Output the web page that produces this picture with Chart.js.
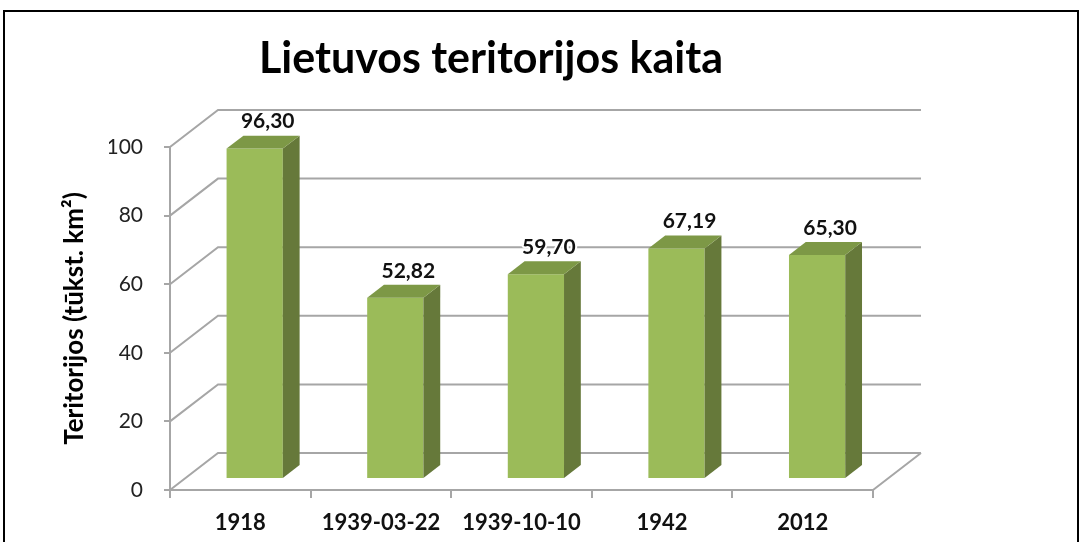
<!DOCTYPE html>
<html><head><meta charset="utf-8">
<script src="https://cdn.jsdelivr.net/npm/chart.js@4"></script>
<style>
html,body{margin:0;padding:0;background:#fff;}
#wrap{position:relative;width:1083px;height:542px;overflow:hidden;}
#frame{position:absolute;left:3px;top:10px;width:1072px;height:600px;border:2px solid #000;pointer-events:none;}
canvas{position:absolute;left:0;top:0;}
</style></head><body>
<div id="wrap"><canvas id="c" width="1083" height="542"></canvas><div id="frame"></div></div>
<script>
const categories = ['1918', '1939-03-22', '1939-10-10', '1942', '2012'];
const areaValues = [96.30, 52.82, 59.70, 67.19, 65.30];
const yTickValues = [0, 20, 40, 60, 80, 100];
const chartTitle = 'Lietuvos teritorijos kaita';
const yTitle = 'Teritorijos (tūkst. km²)';

const GRID = '#a6a6a6';
const FRONT = '#9bbb59';
const SIDE = '#66793a';
const TOP = '#7d9846';
const DX = 48, DY = -37;      // full depth of the 3D box
const FACE = 0.3;             // depth of bar front face
const BDEPTH = 0.35;          // depth of bars

const depth3d = {
  id: 'depth3d',
  beforeDatasetsDraw(chart) {
    const {ctx, chartArea: a, scales: {y}} = chart;
    ctx.save();
    ctx.strokeStyle = GRID; ctx.lineWidth = 2;
    ctx.beginPath();
    y.ticks.forEach(t => {
      const py = y.getPixelForValue(t.value);
      ctx.moveTo(a.left, py); ctx.lineTo(a.left + DX, py + DY); ctx.lineTo(a.right + DX, py + DY);
    });
    const p0 = y.getPixelForValue(0);
    ctx.moveTo(a.right, p0); ctx.lineTo(a.right + DX, p0 + DY);
    ctx.stroke();
    ctx.restore();
    ctx.save();
    ctx.translate(DX * FACE, DY * FACE);
  },
  afterDatasetsDraw(chart) {
    const ctx = chart.ctx;
    ctx.restore();
    const meta = chart.getDatasetMeta(0);
    const bx = DX * BDEPTH, by = DY * BDEPTH;
    const fx = DX * FACE, fy = DY * FACE;
    meta.data.forEach((bar, i) => {
      const p = bar.getProps(['x', 'y', 'base', 'width'], true);
      const l = p.x - p.width / 2 + fx, r = p.x + p.width / 2 + fx;
      const t = p.y + fy, b = p.base + fy;
      ctx.save();
      ctx.fillStyle = SIDE;
      ctx.beginPath();
      ctx.moveTo(r, t); ctx.lineTo(r + bx, t + by); ctx.lineTo(r + bx, b + by); ctx.lineTo(r, b); ctx.closePath();
      ctx.fill();
      ctx.fillStyle = TOP;
      ctx.beginPath();
      ctx.moveTo(l, t); ctx.lineTo(l + bx, t + by); ctx.lineTo(r + bx, t + by); ctx.lineTo(r, t); ctx.closePath();
      ctx.fill();
      // value label
      const txt = areaValues[i].toFixed(2).replace('.', ',');
      ctx.font = 'bold 21px Lato';
      ctx.textAlign = 'center'; ctx.textBaseline = 'middle';
      const lx = p.x + fx + 13, ly = t + by - 14;
      ctx.lineWidth = 4; ctx.strokeStyle = '#fff'; ctx.lineJoin = 'round';
      ctx.strokeText(txt, lx, ly);
      ctx.fillStyle = '#111';
      ctx.fillText(txt, lx, ly);
      ctx.restore();
    });
  }
};

new Chart(document.getElementById('c'), {
  type: 'bar',
  data: {
    labels: categories,
    datasets: [{
      data: areaValues,
      backgroundColor: FRONT,
      borderWidth: 0,
      barPercentage: 0.4,
      categoryPercentage: 1,
      clip: false
    }]
  },
  options: {
    responsive: false,
    devicePixelRatio: 1,
    animation: false,
    layout: {padding: {left: 109, right: 210, top: 0, bottom: 0}},
    plugins: {
      legend: {display: false},
      tooltip: {enabled: false},
      title: {
        display: true, text: chartTitle, color: '#000',
        font: {family: 'Lato', size: 43, weight: 'bold'},
        padding: {top: 33, bottom: 62.4}
      }
    },
    scales: {
      x: {
        grid: {offset: true, drawOnChartArea: false, drawTicks: true, tickLength: 8, color: GRID, lineWidth: 2},
        border: {display: true, color: GRID, width: 2},
        ticks: {color: '#111', font: {family: 'Lato', size: 22, weight: 'bold'}, padding: 12, maxRotation: 0},
        afterFit(s) { s.height = 52; }
      },
      y: {
        min: 0, max: 100,
        afterBuildTicks(s) { s.ticks = yTickValues.map(v => ({value: v})); },
        grid: {drawOnChartArea: false, drawTicks: true, tickLength: 6, color: GRID, lineWidth: 2},
        border: {display: true, color: GRID, width: 2},
        ticks: {color: '#222', font: {family: 'Lato', size: 21}, padding: 21},
        title: {display: true, text: yTitle, color: '#000',
          font: {family: 'Lato', size: 26, weight: 'bold'}, padding: {top: -50, bottom: 0}},
        afterFit(s) { s.width = 61; }
      }
    }
  },
  plugins: [depth3d]
});
</script>
</body></html>
